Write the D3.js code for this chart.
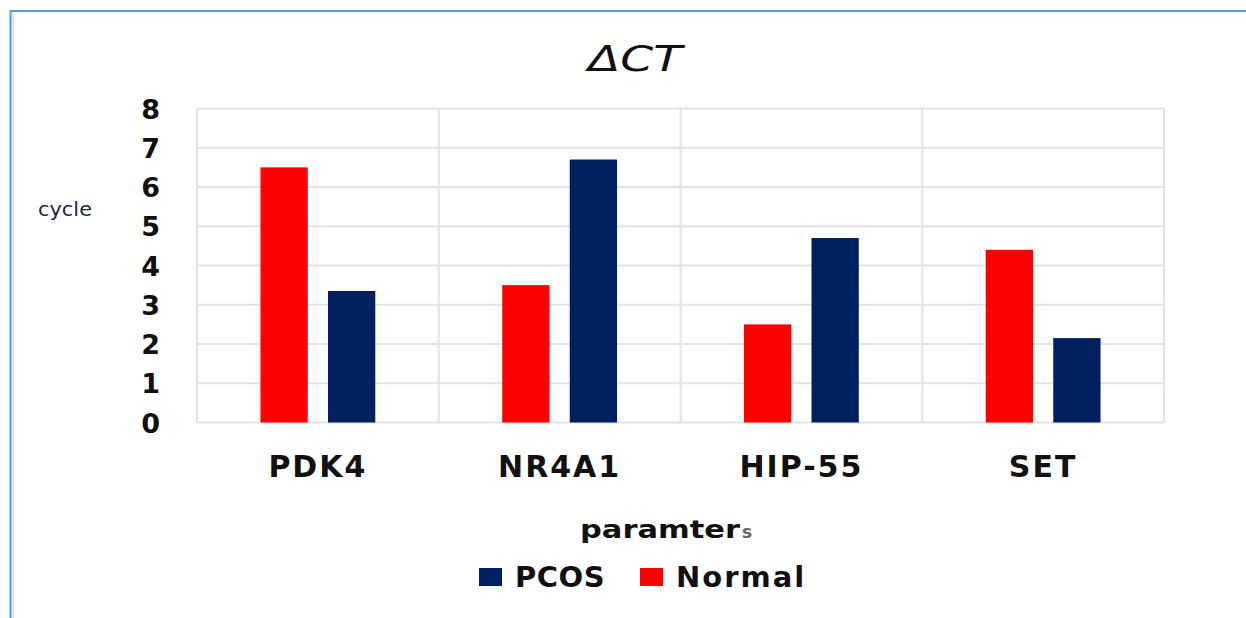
<!DOCTYPE html>
<html>
<head>
<meta charset="utf-8">
<script src="https://cdn.jsdelivr.net/npm/d3@7/dist/d3.min.js"></script>
<style>
  html, body { margin: 0; padding: 0; background: #fff; }
  svg { display: block; }
</style>
</head>
<body>
<svg id="chart" width="1246" height="618"></svg>
<script>
// ---- data ----
const categories = ["PDK4", "NR4A1", "HIP-55", "SET"];
const seriesNames = ["Normal", "PCOS"];
const normalValues = [6.5, 3.5, 2.5, 4.4];
const pcosValues = [3.35, 6.7, 4.7, 2.15];
const yTicks = [0, 1, 2, 3, 4, 5, 6, 7, 8];
const legendOrder = ["PCOS", "Normal"];
const titleText = "\u0394CT";
const yLabelText = "cycle";
const xLabelMain = "paramter";
const xLabelSub = "s";

const colors = { Normal: "#ff0000", PCOS: "#002060" };
const valuesBySeries = { Normal: normalValues, PCOS: pcosValues };

const svg = d3.select("#chart");
const font = "'DejaVu Sans', Verdana, sans-serif";

// outer frame
svg.append("line").attr("x1", 13).attr("x2", 13).attr("y1", 13).attr("y2", 618)
  .attr("stroke", "#e4e4e4").attr("stroke-width", 3);
svg.append("line").attr("x1", 10).attr("x2", 1246).attr("y1", 11).attr("y2", 11)
  .attr("stroke", "#5b9bd5").attr("stroke-width", 2);
svg.append("line").attr("x1", 10.5).attr("x2", 10.5).attr("y1", 10).attr("y2", 618)
  .attr("stroke", "#5b9bd5").attr("stroke-width", 2);

const plot = { left: 197, right: 1164, top: 108.5, bottom: 422.5 };

const x0 = d3.scaleBand().domain(categories).range([plot.left, plot.right]).padding(0);
const bw = x0.bandwidth();
const x1 = d3.scaleBand().domain(seriesNames).range([bw * 0.2625, bw * 0.7375]).paddingInner(0.3);
const y = d3.scaleLinear().domain([0, 8]).range([plot.bottom, plot.top]);

// gridlines (horizontal)
const gridG = svg.append("g");
gridG.selectAll("line.h").data(yTicks).join("line")
  .attr("x1", plot.left).attr("x2", plot.right)
  .attr("y1", d => y(d)).attr("y2", d => y(d))
  .attr("stroke", "#e3e3e3").attr("stroke-width", 2);
// vertical category separators
const seps = categories.map(c => x0(c)).concat([plot.right]);
gridG.selectAll("line.v").data(seps).join("line")
  .attr("x1", d => d).attr("x2", d => d)
  .attr("y1", plot.top).attr("y2", plot.bottom)
  .attr("stroke", "#e3e3e3").attr("stroke-width", 2);

// bars
const groups = svg.append("g").selectAll("g").data(categories).join("g")
  .attr("transform", c => `translate(${x0(c)},0)`);
groups.selectAll("rect")
  .data((c, i) => seriesNames.map(s => ({ s, v: valuesBySeries[s][i] })))
  .join("rect")
  .attr("x", d => x1(d.s))
  .attr("width", x1.bandwidth())
  .attr("y", d => y(d.v))
  .attr("height", d => y(0) - y(d.v))
  .attr("fill", d => colors[d.s]);

// y axis tick labels
const yAxis = d3.axisLeft(y).tickValues(yTicks).tickSize(0).tickPadding(0).tickFormat(d3.format("d"));
const yAxisG = svg.append("g").attr("transform", `translate(160,0)`).call(yAxis);
yAxisG.select(".domain").remove();
yAxisG.selectAll("text")
  .attr("font-family", font).attr("font-weight", "bold").attr("font-size", 27)
  .attr("fill", "#111").attr("dy", "0.36em");

// x axis labels
const xAxis = d3.axisBottom(x0).tickSize(0).tickPadding(0);
const xAxisG = svg.append("g").attr("transform", `translate(0,477)`).call(xAxis);
xAxisG.select(".domain").remove();
xAxisG.selectAll("text")
  .attr("font-family", font).attr("font-weight", "bold").attr("font-size", 30)
  .attr("letter-spacing", 2).attr("fill", "#111").attr("dy", 0);

// title
svg.append("text").attr("x", 588).attr("y", 71)
  .attr("font-family", font).attr("font-style", "italic").attr("font-size", 35)
  .attr("fill", "#111").attr("textLength", 94).attr("lengthAdjust", "spacingAndGlyphs")
  .text(titleText);

// y label
svg.append("text").attr("x", 38).attr("y", 216)
  .attr("font-family", font).attr("font-size", 19)
  .attr("fill", "#1e2a40").attr("textLength", 54).attr("lengthAdjust", "spacingAndGlyphs")
  .text(yLabelText);

// x axis title
const xt = svg.append("text").attr("x", 580).attr("y", 538)
  .attr("font-family", font).attr("font-weight", "bold").attr("fill", "#111");
xt.append("tspan").attr("font-size", 24).attr("textLength", 160).attr("lengthAdjust", "spacingAndGlyphs").text(xLabelMain);
xt.append("tspan").attr("font-size", 17).attr("fill", "#666").attr("dx", 2).text(xLabelSub);

// legend
const legendPos = { PCOS: 479, Normal: 640 };
const legend = svg.append("g");
legendOrder.forEach(s => {
  legend.append("rect").attr("x", legendPos[s]).attr("y", 568).attr("width", 23).attr("height", 18)
    .attr("fill", colors[s]);
  legend.append("text").attr("x", legendPos[s] + 36).attr("y", 587)
    .attr("font-family", font).attr("font-weight", "bold").attr("font-size", 29)
    .attr("letter-spacing", s === "Normal" ? 2 : 0.5)
    .attr("fill", "#111").text(s);
});
</script>
</body>
</html>
